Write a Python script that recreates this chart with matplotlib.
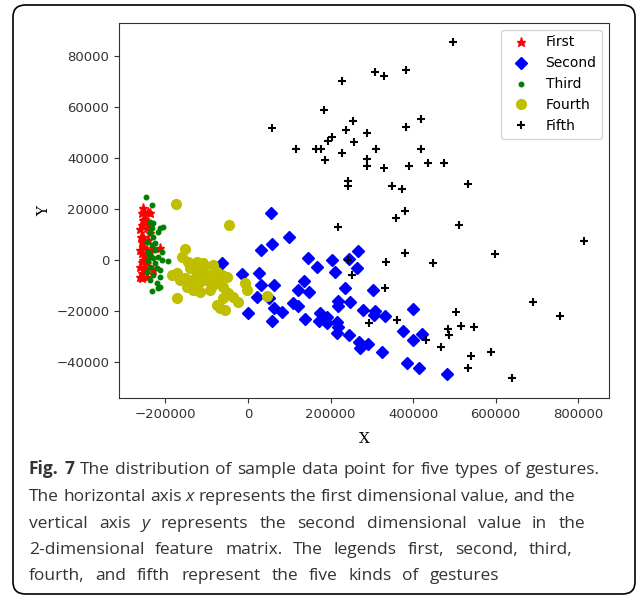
import matplotlib
matplotlib.use("Agg")
import matplotlib.pyplot as plt
from matplotlib.patches import FancyBboxPatch

# ---- data ----
first_x = [-253800, -241700, -257700, -237600, -253800, -257700, -245600, -237600, -253800, -257700,
           -213300, -229600, -253800, -245600, -257700, -249700, -257700, -245600, -261800, -249700,
           -257700, -245600, -261800, -237600, -241700, -253800, -229600, -262000, -250000, -262000,
           -252000, -258000, -246000, -240000, -260000]
first_y = [20300, 18900, 18300, 18300, 15700, 13700, 12400, 10500, 9100, 7200,
           4600, 4600, 5200, 3900, 2600, 1300, -700, -1300, -2600, -3300,
           -5200, -6500, -6500, 3300, 7800, 0, -3900, 12000, 16000, 4000,
           -4000, -7000, 500, 14000, 9000]

second_x = [55800, 99400, 58200, 31500, 267400, 144700, 202900, 167300, 245600, 264200,
            210900, -62300, -13800, 25900, 32200, 63000, 135800, 121900, 147900, 235900,
            302300, 21100, 50900, 109800, 120500, 217500, 247300, 218900, 63800, 81700,
            700, 58200, 138900, 174500, 190800, 172800, 190800, 216500, 218900, 216500,
            245600, 278800, 307900, 305500, 332100, 400700, 376500, 400700, 422500, 269800,
            271500, 290200, 325600, 384700, 415300, 481700]
second_y = [18500, 8900, 6300, 3900, 3600, 700, 0, -2600, 400, -3300,
            -4600, -1300, -5500, -5200, -9800, -9900, -8200, -11800, -12400, -11100,
            -11800, -14600, -15000, -16700, -18000, -16000, -16400, -18000, -18700, -20300,
            -20700, -23900, -23300, -20700, -22500, -23800, -24600, -24200, -26200, -28500,
            -29400, -19600, -20000, -21600, -21800, -19300, -27700, -31400, -29000, -32000,
            -34600, -32900, -36000, -40300, -42200, -44800]

third_x = [-248000, -233500, -237600, -229600, -213300, -205300, -217500, -237600, -229600, -245600,
           -233500, -225500, -237600, -217500, -209200, -193200, -241700, -225500, -237600, -221300,
           -213300, -245600, -229600, -213300, -237600, -221300, -213300, -232000, -217500, -229600,
           -241700, -225500, -209200, -233500]
third_y = [24800, 21600, 15000, 14400, 12400, 13100, 11100, 11100, 9100, 7200,
           5900, 3900, 2000, 1300, 0, -400, 0, -1300, -2600, -3300,
           -3900, -4600, -5900, -6500, -7800, -9100, -10500, -12200, -11100, 700,
           3300, 6500, 3300, 12400]

fourth_x = [-175300, -45300, -152700, -160700, -144700, -124400, -108400, -140600, -128500, -116400,
            -100100, -84100, -75900, -63800, -51600, -185000, -172800, -164800, -152700, -136500,
            -124400, -116400, -100100, -80000, -148600, -132600, -116400, -92100, -59900, -47800,
            -35600, -23500, -7300, -3200, -172800, -75900, -55800, -67900, 45300, -110000,
            -95000, -130000, -88000, -70000, -140000, -60000]
fourth_y = [21800, 13800, 4300, 1300, -700, -700, -1300, -3300, -3900, -4600,
            -5900, -2000, -4600, -5900, -6500, -5900, -5200, -7800, -7200, -7800,
            -6500, -8500, -7800, -9100, -10500, -11800, -12400, -11800, -10500, -13100,
            -14400, -16400, -9100, -11800, -15000, -17600, -19600, -18900, -14100, -3000,
            -6000, -8000, -10000, -8000, -9000, -15000]

fifth_x = [496000, 307900, 330400, 383000, 227900, 184200, 57500, 253800, 236800, 204400,
           194700, 288500, 257700, 383000, 419400, 115600, 164800, 177000, 227900, 310300,
           419400, 186700, 289200, 287800, 330400, 389600, 437100, 475200, 241700, 241700,
           349800, 374100, 534100, 217500, 358100, 379900, 511500, 815300, 379900, 599500,
           334500, 447800, 243200, 251400, 332100, 691600, 756400, 503500, 294100, 361900,
           515600, 548600, 484100, 486500, 431500, 467900, 541300, 589800, 532600, 640700]
fifth_y = [85600, 73600, 72300, 74500, 70300, 58800, 51600, 54500, 50900, 48400,
           46800, 49700, 46300, 52000, 55300, 43400, 43400, 43600, 42000, 43600,
           43600, 39200, 39500, 36900, 36200, 37000, 38000, 38000, 31000, 29100,
           28900, 28000, 29700, 12800, 16400, 19200, 13700, 7600, 2900, 2500,
           -800, -1100, 0, -5900, -11100, -16500, -22000, -20500, -24600, -23500,
           -25900, -26200, -27200, -29500, -31500, -34200, -37500, -36000, -42200, -46400]

labels = ["First", "Second", "Third", "Fourth", "Fifth"]

caption = [
    [("Fig.", "bold"), ("7", "bold"), "The", "distribution", "of", "sample", "data", "point",
     "for", "five", "types", "of", "gestures."],
    ["The", "horizontal", "axis", ("x", "italic"), "represents", "the", "first",
     "dimensional", "value,", "and", "the"],
    ["vertical", "axis", ("y", "italic"), "represents", "the", "second", "dimensional",
     "value", "in", "the"],
    ["2-dimensional", "feature", "matrix.", "The", "legends", "first,", "second,", "third,"],
    ["fourth,", "and", "fifth", "represent", "the", "five", "kinds", "of", "gestures"],
]

W, H = 637, 596
fig = plt.figure(figsize=(W / 100, H / 100), dpi=100)

# outer rounded frame
frame = FancyBboxPatch((13 / W, 1 - 594 / H), 622 / W, 589 / H,
                       boxstyle="round,pad=0,rounding_size=0.02",
                       transform=fig.transFigure, fill=False, ec="black", lw=1.2)
fig.patches.append(frame)

ax = fig.add_axes([119 / W, 1 - 398 / H, 490 / W, 375 / H])
ax.plot(first_x, first_y, "r*", ms=6.5, label=labels[0])
ax.plot(second_x, second_y, "bD", ms=6.3, label=labels[1])
ax.plot(third_x, third_y, "g.", ms=6.5, label=labels[2])
ax.plot(fourth_x, fourth_y, "yo", ms=7, label=labels[3])
ax.plot(fifth_x, fifth_y, "k+", ms=6, mew=1.5, label=labels[4])

ax.set_xlim(-312700, 875000)
ax.set_ylim(-54100, 92900)
ax.set_xticks([-200000, 0, 200000, 400000, 600000, 800000])
ax.set_yticks([-40000, -20000, 0, 20000, 40000, 60000, 80000])
ax.tick_params(labelsize=9.5, colors="#333333")
for s in ax.spines.values():
    s.set_color("#333333")
ax.set_xlabel("X", family="DejaVu Serif", fontsize=11, labelpad=8)
ax.set_ylabel("Y", family="DejaVu Serif", fontsize=11, labelpad=3.5)
ax.legend(loc="upper right", fontsize=10)

# caption, justified word by word
renderer = fig.canvas.get_renderer()
baselines = [474, 501, 528, 554, 580]
right_edges = [600, 575, 585, 572, 499]
x_left = 29


def make_words(words, yb, size):
    out = []
    for w in words:
        txt, style = w if isinstance(w, tuple) else (w, "normal")
        kw = {}
        if style == "bold":
            kw["weight"] = "bold"
        if style == "italic":
            kw["style"] = "italic"
        out.append(fig.text(0, 1 - yb / H, txt, family="Open Sans", fontsize=size,
                            color="#333333", va="baseline", ha="left", **kw))
    return out


# pick the font size so the first line fits with ordinary word spacing
probe = make_words(caption[0], baselines[0], 12)
w12 = sum(t.get_window_extent(renderer).width for t in probe)
for t in probe:
    t.remove()
space12 = 0.34 * 12 * 100 / 72
size = 12 * (right_edges[0] - x_left) / (w12 + (len(caption[0]) - 1) * space12)

for words, yb, xr in zip(caption, baselines, right_edges):
    texts = make_words(words, yb, size)
    widths = [t.get_window_extent(renderer).width for t in texts]
    gap = (xr - x_left - sum(widths)) / (len(texts) - 1)
    x = x_left
    for t, wd in zip(texts, widths):
        t.set_x(x / W)
        x += wd + gap

fig.savefig("out.png", dpi=100)
